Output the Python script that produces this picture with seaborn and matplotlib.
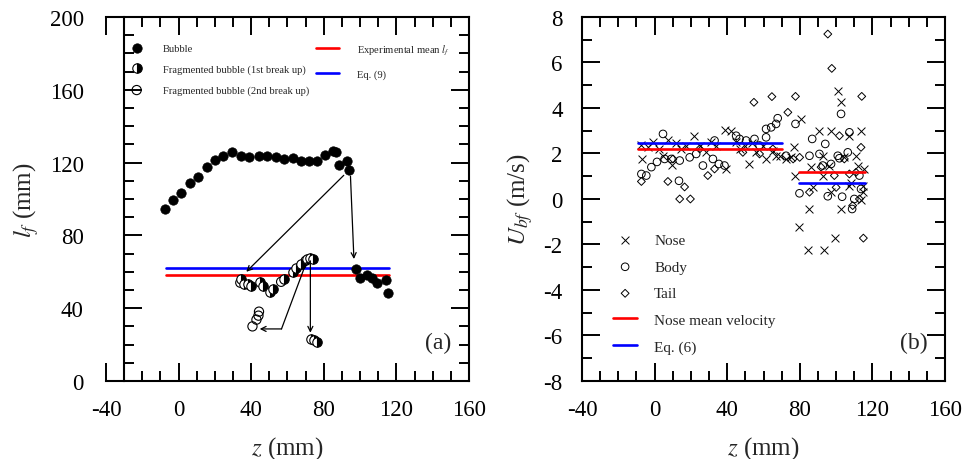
import matplotlib
matplotlib.use("Agg")
import matplotlib.pyplot as plt
from matplotlib.ticker import MultipleLocator
import seaborn as sns

# ---------------- (a) film length along the channel ----------------
bubble_z = [-7.3, -3.1, 1.5, 6.1, 10.8, 15.4, 19.9, 24.6, 29.4, 34.4, 39.0, 44.1,
            48.9, 53.5, 58.1, 63.1, 67.7, 71.9, 76.0, 80.6, 84.8, 87.0, 88.5, 93.0,
            94.0, 97.7, 100.0, 103.7, 106.8, 109.3, 114.4, 115.5]
bubble_l = [94.5, 99.3, 103.5, 108.6, 112.1, 117.4, 121.4, 123.6, 125.8, 123.6, 123.1, 123.6,
            123.6, 123.1, 122.2, 122.7, 120.7, 120.7, 120.7, 124.3, 126.5, 125.6, 118.9, 120.7,
            116.1, 61.7, 56.4, 58.4, 56.7, 54.0, 55.5, 48.4]

frag1_z = [34.6, 35.9, 38.2, 40.1, 44.7, 46.5, 50.2, 52.0, 58.1, 63.1, 64.9, 67.7,
           70.5, 72.6, 74.1, 72.8, 74.5, 76.0]
frag1_l = [56.0, 53.3, 53.3, 52.4, 54.2, 52.4, 48.7, 50.5, 56.0, 59.7, 61.9, 64.3,
           67.0, 67.4, 67.0, 23.1, 22.3, 21.6]

frag2_z = [34.0, 56.5, 70.0, 44.3, 44.0, 42.9, 40.7]
frag2_l = [54.0, 54.5, 66.0, 38.1, 35.9, 33.7, 30.0]

mean_lf = 58.0
eq9_lf = 62.0
lf_span = [-7.0, 116.0]

# break-up paths (start, end) in (z, l_f)
breakup_arrows = [((91.0, 113.0), (37.3, 60.0)),
                  ((94.7, 112.5), (96.6, 67.0)),
                  ((56.7, 28.6), (44.7, 28.6)),
                  ((72.6, 66.0), (72.6, 26.5))]
breakup_leg = [(70.4, 65.2), (56.7, 28.6)]

# ---------------- (b) front velocities ----------------
nose_z = [-7.3, -6.8, -3.5, -0.9, 2.4, 4.5, 7.3, 9.7, 12.0, 14.7, 17.5, 21.5, 24.8, 28.4,
          31.0, 33.9, 38.5, 42.2, 39.1, 44.9, 47.0, 49.9, 51.9, 53.5, 55.9, 59.6, 61.4,
          65.1, 66.9, 68.8, 72.4, 75.0, 77.0, 77.6, 80.7, 85.3, 87.1, 90.8, 86.2, 92.6,
          92.6, 96.3, 97.2, 100.9, 102.7, 102.7, 104.5, 107.3, 110.9, 108.2, 111.8, 113.7,
          114.6, 113.7, 115.5, 79.4, 84.3, 93.5, 99.6, 97.2, 107.3, 114.6]
nose_u = [2.37, 1.76, 2.30, 2.49, 2.20, 1.90, 2.60, 1.50, 2.45, 2.20, 2.35, 2.75, 2.35, 2.05,
          2.50, 2.35, 3.03, 3.00, 1.32, 2.49, 2.20, 2.35, 1.54, 2.45, 2.05, 2.35, 1.76,
          2.13, 1.90, 1.90, 1.76, 1.85, 2.27, 1.03, 3.51, -0.44, 0.53, 3.00, 1.40, 1.90,
          1.03, 1.47, 3.00, 4.76, 4.25, -0.46, 1.83, 2.78, 1.90, 0.70, 1.47, 3.00,
          0.59, -0.04, 1.32, -1.25, -2.23, -2.23, -1.73, 0.29, 0.56, 0.29]

body_z = [-7.3, -4.6, -1.8, 1.3, 4.6, 5.5, 9.2, 13.8, 13.4, 19.3, 22.9, 26.6, 32.1, 35.4,
          38.5, 33.0, 44.9, 46.8, 50.4, 55.0, 57.8, 61.4, 61.4, 64.2, 66.9, 67.8, 72.4,
          77.6, 79.8, 85.3, 86.8, 92.6, 94.0, 97.2, 95.4, 100.9, 102.7, 103.3, 108.8,
          106.4, 110.0, 112.8, 113.7, 107.3, 101.8, 90.8]
body_u = [1.10, 1.03, 1.40, 1.63, 2.86, 1.76, 1.76, 1.69, 0.80, 1.83, 1.98, 1.47, 1.76, 1.54,
          1.47, 2.57, 2.78, 2.64, 2.57, 2.64, 2.35, 2.71, 3.08, 3.15, 3.30, 3.55, 1.90,
          3.30, 0.25, 1.90, 2.64, 1.47, 2.42, 1.54, 0.12, 1.90, 3.74, 0.10, -0.44,
          2.05, 0.00, 1.03, 0.44, 2.93, 1.79, 1.98]

tail_z = [-7.3, 7.3, 16.5, 13.8, 19.7, 29.3, 33.0, 10.1, 54.7, 64.6, 24.8, 48.6, 57.8,
          65.1, 73.4, 77.6, 95.4, 97.6, 114.1, 101.8, 113.7, 104.5, 110.9, 76.3, 79.9,
          99.0, 109.1, 100.0, 107.3, 112.8, 91.7, 85.3, 115.0]
tail_u = [0.77, 0.77, 0.53, 0.00, 0.00, 1.03, 1.32, 1.76, 4.25, 4.50, 2.20, 2.05, 1.98,
          2.20, 3.81, 4.51, 7.25, 5.74, 4.51, 2.78, 2.27, 1.76, 1.17, 1.76, 1.83,
          1.03, -0.29, 0.51, 1.10, 0.00, 1.40, 0.30, -1.72]

nose_mean_z = [[-9.2, 70.3], [79.8, 116.0]]
nose_mean_u = [2.20, 1.20]
eq6_z = [[-9.2, 70.3], [79.8, 116.0]]
eq6_u = [2.45, 0.69]

x_ticks = [-40, 0, 40, 80, 120, 160]

# ---------------- style ----------------
sns.set_theme(style="ticks")
plt.rcParams["font.family"] = ["Liberation Serif", "DejaVu Serif"]
plt.rcParams["mathtext.fontset"] = "stix"
plt.rcParams["axes.linewidth"] = 1.5
plt.rcParams["axes.unicode_minus"] = False

fig = plt.figure(figsize=(9.67, 4.6), dpi=100)
ax1 = fig.add_axes([0.1096, 0.1696, 0.3754, 0.7913])
ax2 = fig.add_axes([0.6019, 0.1696, 0.3754, 0.7913])

RED = "#ff0000"
BLUE = "#0000ff"

# panel (a)
sns.scatterplot(x=frag2_z, y=frag2_l, ax=ax1, marker="o", s=44, color="black",
                facecolor="none", edgecolor="black", linewidth=0.8, zorder=3,
                label="Fragmented bubble (2nd break up)")
sns.lineplot(x=frag1_z, y=frag1_l, ax=ax1, estimator=None, sort=False, linestyle="",
             marker="o", markersize=6.8, color="black", markerfacecolor="black",
             markerfacecoloralt="white", fillstyle="right", markeredgecolor="black",
             markeredgewidth=0.8, zorder=4, label="Fragmented bubble (1st break up)")
sns.scatterplot(x=bubble_z, y=bubble_l, ax=ax1, marker="o", s=46, color="black",
                edgecolor="black", linewidth=0.5, zorder=5, label="Bubble")
sns.lineplot(x=lf_span, y=[mean_lf, mean_lf], ax=ax1, color=RED, linewidth=1.9,
             zorder=2, label="Experimental mean $l_f$")
sns.lineplot(x=lf_span, y=[eq9_lf, eq9_lf], ax=ax1, color=BLUE, linewidth=1.9,
             zorder=2, label="Eq. (9)")

ax1.plot([p[0] for p in breakup_leg], [p[1] for p in breakup_leg], color="black",
         lw=0.9, zorder=6)
for start, end in breakup_arrows:
    ax1.annotate("", xy=end, xytext=start, zorder=6,
                 arrowprops=dict(arrowstyle="->", color="black", lw=0.9,
                                 shrinkA=0, shrinkB=0, mutation_scale=9))

# panel (b)
sns.scatterplot(x=nose_z, y=nose_u, ax=ax2, marker="x", s=32, color="black",
                linewidth=0.7, zorder=3, label="Nose")
sns.scatterplot(x=body_z, y=body_u, ax=ax2, marker="o", s=30, color="black",
                facecolor="none", edgecolor="black", linewidth=0.7, zorder=3, label="Body")
sns.scatterplot(x=tail_z, y=tail_u, ax=ax2, marker="D", s=16, color="black",
                facecolor="none", edgecolor="black", linewidth=0.7, zorder=3, label="Tail")
for i, (zs, u) in enumerate(zip(nose_mean_z, nose_mean_u)):
    sns.lineplot(x=zs, y=[u, u], ax=ax2, color=RED, linewidth=1.9, zorder=4,
                 label="Nose mean velocity" if i == 0 else None)
for i, (zs, u) in enumerate(zip(eq6_z, eq6_u)):
    sns.lineplot(x=zs, y=[u, u], ax=ax2, color=BLUE, linewidth=1.9, zorder=4,
                 label="Eq. (6)" if i == 0 else None)

# legends
h1, l1 = ax1.get_legend_handles_labels()
order = ["Bubble", "Fragmented bubble (1st break up)", "Fragmented bubble (2nd break up)"]
hmap = dict(zip(l1, h1))
leg_a = ax1.legend([hmap[k] for k in order], order, loc="upper left",
                   bbox_to_anchor=(0.07, 0.928), frameon=False, fontsize=7.6,
                   handlelength=1.0, handletextpad=2.0, labelspacing=1.1,
                   borderpad=0, borderaxespad=0)
ax1.add_artist(leg_a)
line_labels = ["Experimental mean $l_f$", "Eq. (9)"]
ax1.legend([hmap[k] for k in line_labels], line_labels, loc="upper left",
           bbox_to_anchor=(0.578, 0.93), frameon=False, fontsize=7.6,
           handlelength=2.2, handletextpad=1.7, labelspacing=1.2,
           borderpad=0, borderaxespad=0)

h2, l2 = ax2.get_legend_handles_labels()
ax2.legend(h2, l2, loc="upper left", bbox_to_anchor=(0.085, 0.405), frameon=False,
           fontsize=11, handlelength=1.6, handletextpad=1.1, labelspacing=0.84,
           borderpad=0, borderaxespad=0)

# axes
ax1.set_xlim(-40, 160)
ax1.set_ylim(0, 200)
ax1.spines["left"].set_position(("data", -30))
ax1.yaxis.set_major_locator(MultipleLocator(40))
ax1.yaxis.set_minor_locator(MultipleLocator(10))

ax2.set_xlim(-40, 160)
ax2.set_ylim(-8, 8)
ax2.yaxis.set_major_locator(MultipleLocator(2))
ax2.yaxis.set_minor_locator(MultipleLocator(1))

for ax in (ax1, ax2):
    ax.set_xticks(x_ticks)
    ax.set_xticklabels([str(t) for t in x_ticks])
    ax.xaxis.set_minor_locator(MultipleLocator(10))
    for s in ax.spines.values():
        s.set_visible(True)
        s.set_linewidth(1.5)
        s.set_color("black")
    ax.tick_params(which="both", direction="in", top=True, right=True, color="black",
                   width=1.4, labelsize=16.5, labelcolor="black")
    ax.tick_params(which="major", length=13)
    ax.tick_params(which="minor", length=7)
    ax.tick_params(axis="x", which="major", pad=13)
    ax.set_xlabel("$z$ (mm)", fontsize=18, labelpad=10)
    ax.grid(False)
    ax.set_facecolor("white")

ax1.tick_params(axis="y", which="major", pad=29)
ax2.tick_params(axis="y", which="major", pad=14)
ax1.set_ylabel("$l_f$ (mm)", fontsize=18, labelpad=6)
ax2.set_ylabel("$U_{bf}$ (m/s)", fontsize=18, labelpad=6)

ax1.text(0.915, 0.107, "(a)", transform=ax1.transAxes, fontsize=17, ha="center", va="center")
ax2.text(0.915, 0.107, "(b)", transform=ax2.transAxes, fontsize=17, ha="center", va="center")

fig.savefig("out.png", dpi=100, facecolor="white")
